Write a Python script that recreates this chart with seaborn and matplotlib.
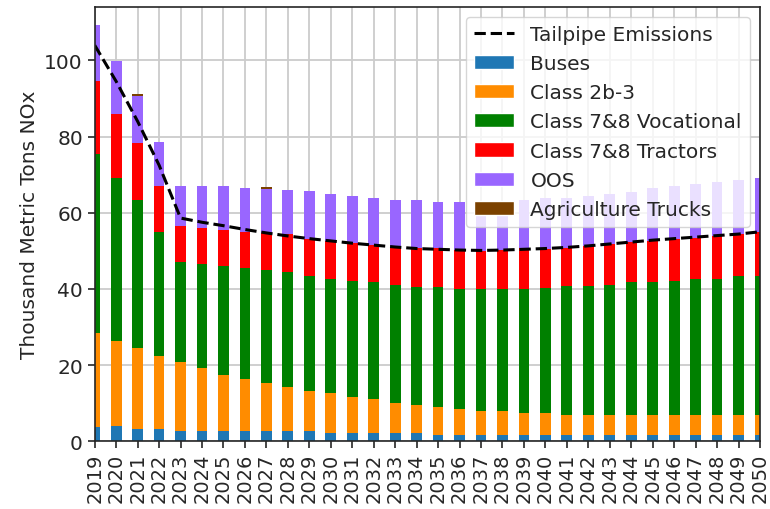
"""Stacked NOx emissions by vehicle class with tailpipe total line."""

import matplotlib.pyplot as plt
import numpy as np
import seaborn as sns
from matplotlib.lines import Line2D
from matplotlib.patches import Patch


years = [str(y) for y in range(2019, 2051)]

buses = [3.8, 3.9, 3.2, 3.2, 2.7, 2.7, 2.7, 2.7, 2.7, 2.7, 2.7,
         2.2, 2.2, 2.2, 2.2, 2.2, 1.7, 1.7, 1.7, 1.7, 1.7, 1.7,
         1.7, 1.7, 1.7, 1.7, 1.7, 1.7, 1.7, 1.7, 1.7, 1.7]
class_2b3 = [24.6, 22.5, 21.2, 19.1, 18.0, 16.4, 14.8, 13.7, 12.6, 11.6,
             10.5, 10.5, 9.5, 8.9, 7.9, 7.4, 7.3, 6.8, 6.3, 6.3, 5.8,
             5.8, 5.2, 5.2, 5.2, 5.2, 5.2, 5.2, 5.2, 5.2, 5.2, 5.2]
vocational = [47.1, 42.7, 39.0, 32.6, 26.3, 27.4, 28.5, 29.0, 29.6, 30.1,
              30.1, 30.0, 30.5, 30.6, 31.0, 31.0, 31.6, 31.6, 32.1, 32.1,
              32.6, 32.7, 33.8, 33.8, 34.2, 34.8, 34.8, 35.3, 35.8, 35.8,
              36.4, 36.4]
tractors = [19.1, 16.9, 14.8, 12.1, 9.5, 9.5, 9.5, 9.5, 9.7, 9.9, 9.9,
            10.0, 9.9, 9.9, 10.0, 10.1, 10.1, 10.1, 9.9, 10.1, 10.6,
            10.2, 10.0, 10.5, 10.6, 10.5, 11.0, 10.8, 10.6, 11.1, 11.1,
            11.6]
oos = [14.7, 13.8, 12.4, 11.6, 10.4, 10.9, 11.4, 11.6, 11.7, 11.6, 12.4,
       12.2, 12.3, 12.3, 12.2, 12.6, 12.1, 12.6, 12.8, 12.9, 12.6, 13.5,
       13.2, 13.2, 13.3, 13.2, 13.8, 14.0, 14.2, 14.3, 14.1, 14.2]
agriculture = [0.0, 0.0, 0.5, 0.0, 0.0, 0.0, 0.0, 0.0, 0.5, 0.0, 0.0,
               0.0, 0.0, 0.0, 0.0, 0.0, 0.0, 0.0, 0.0, 0.0, 0.0, 0.0,
               0.0, 0.0, 0.0, 0.0, 0.0, 0.0, 0.0, 0.0, 0.0, 0.0]
tailpipe = [104.0, 94.5, 84.0, 72.5, 58.6, 57.5, 56.6, 55.6, 54.7, 53.9,
            53.2, 52.6, 52.0, 51.5, 51.0, 50.6, 50.4, 50.2, 50.1, 50.2,
            50.4, 50.6, 50.9, 51.3, 51.8, 52.3, 52.8, 53.2, 53.6, 54.0,
            54.4, 55.0]

labels = ['Buses', 'Class 2b-3', 'Class 7&8 Vocational',
          'Class 7&8 Tractors', 'OOS', 'Agriculture Trucks']
colors = ['#1f77b4', '#ff8c00', '#008000', '#ff0000', '#9966ff', '#7b4100']


def main():
    sns.set_style('whitegrid', {
        'axes.edgecolor': '0.15',
        'grid.color': '0.8',
        'xtick.bottom': True,
        'ytick.left': True,
    })
    fs = 14.5
    plt.rcParams['font.size'] = fs

    fig, ax = plt.subplots(figsize=(7.7, 5.1), dpi=100)
    fig.subplots_adjust(left=0.123, right=0.987, top=0.984, bottom=0.133)

    # cumulative stacks, drawn from top layer down so each covers the next
    layers = np.array([buses, class_2b3, vocational, tractors, oos,
                       agriculture])
    cum = np.cumsum(layers, axis=0)
    for i in range(len(labels) - 1, -1, -1):
        sns.barplot(x=years, y=cum[i], color=colors[i], saturation=1,
                    width=0.5, linewidth=0, ax=ax)

    sns.lineplot(x=np.arange(len(years)), y=tailpipe, color='black',
                 linestyle='--', linewidth=2.2, ax=ax)

    ax.set_xlim(0, len(years) - 1)
    ax.set_ylim(0, 114)
    ax.set_yticks([0, 20, 40, 60, 80, 100])
    ax.grid(True, axis='both', color='0.8', linewidth=1.3)
    ax.set_axisbelow(True)
    ax.tick_params(axis='x', labelrotation=90, labelsize=14, length=5,
                   width=1.2, color='0.15', pad=3)
    ax.tick_params(axis='y', labelsize=fs, length=5, width=1.2,
                   color='0.15')
    ax.set_xlabel('')
    ax.set_ylabel('Thousand Metric Tons NOx', fontsize=fs)
    for sp in ax.spines.values():
        sp.set_linewidth(1.2)
        sp.set_color('0.15')

    handles = [Line2D([0], [0], color='black', linestyle='--',
                      linewidth=2.2)]
    handles += [Patch(facecolor=c) for c in colors]
    ax.legend(handles, ['Tailpipe Emissions'] + labels, loc='upper right',
              fontsize=fs, frameon=True, framealpha=0.8)

    fig.savefig('out.png')
    return


if __name__ == '__main__':
    main()
